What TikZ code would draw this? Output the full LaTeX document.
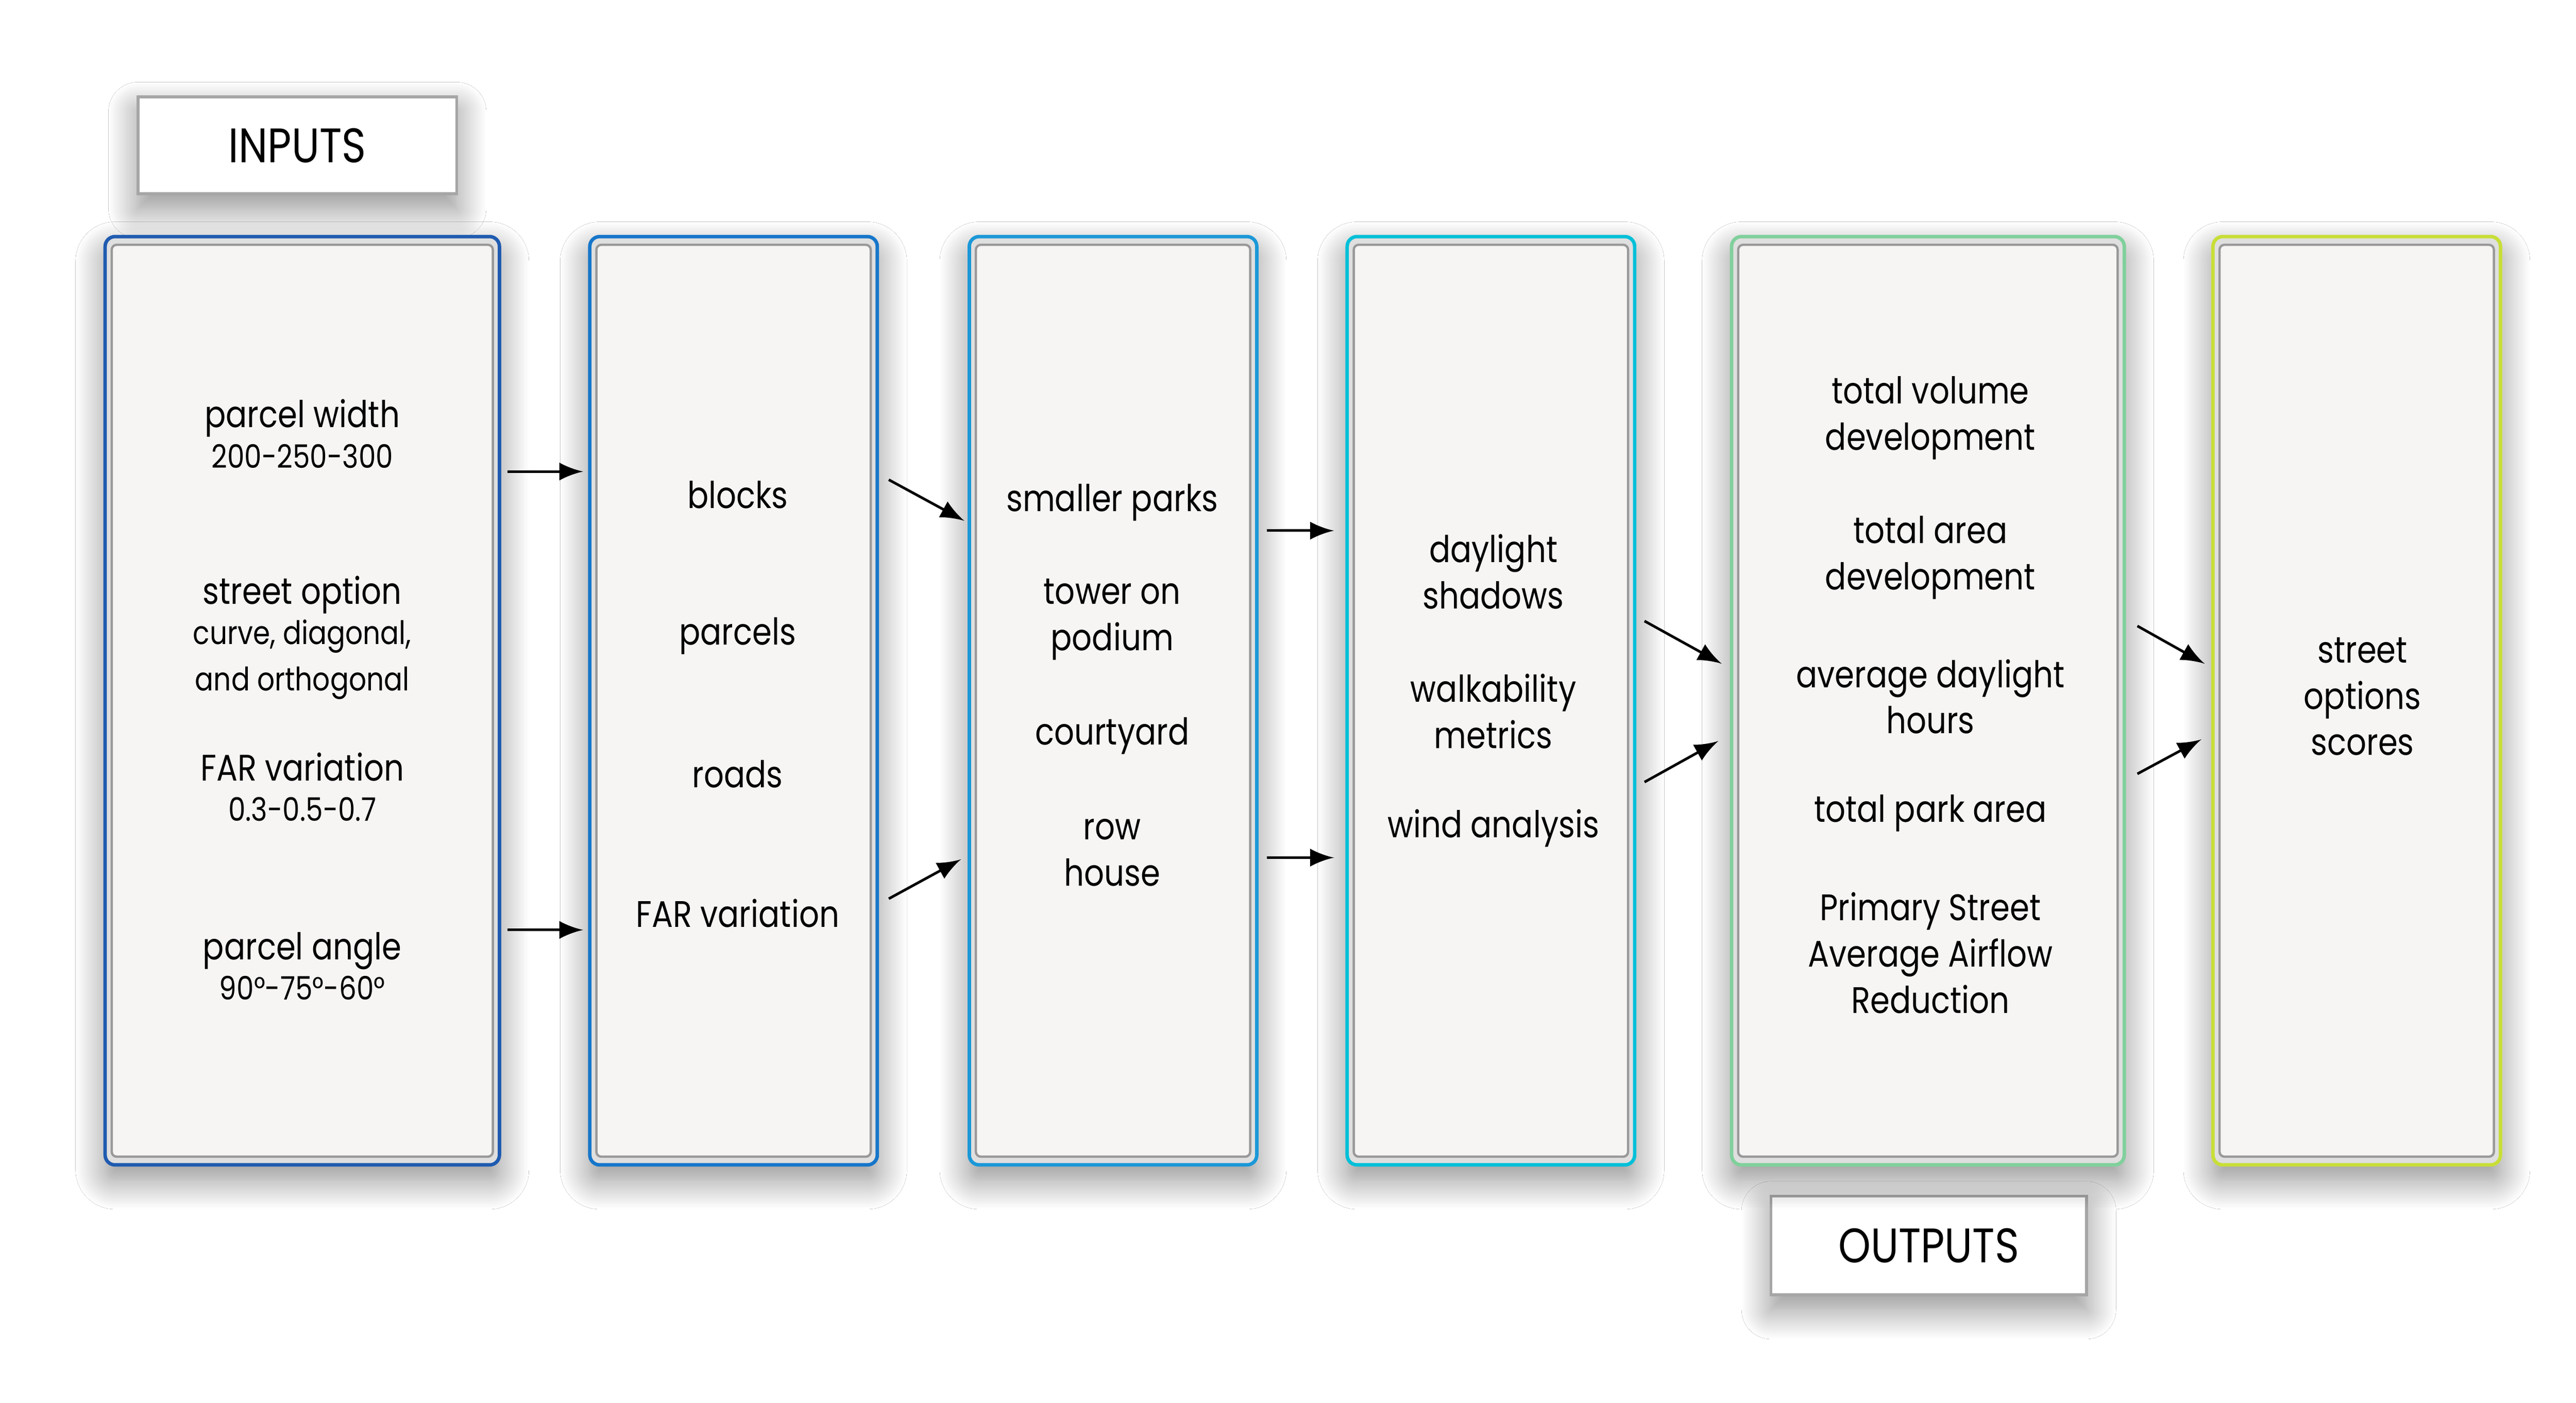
\documentclass[tikz,border=0pt]{standalone}
\usepackage{fontspec}
\setmainfont{Poppins}[FakeStretch=0.85]
\usetikzlibrary{calc,positioning,shadows.blur}
\tikzset{>=latex}
\definecolor{colA}{RGB}{31,91,176}
\definecolor{colB}{RGB}{22,118,202}
\definecolor{colC}{RGB}{27,152,216}
\definecolor{colD}{RGB}{0,192,216}
\definecolor{colE}{RGB}{128,208,156}
\definecolor{colF}{RGB}{200,222,56}
\definecolor{band}{RGB}{223,223,223}
\definecolor{paper}{RGB}{246,245,244}
\newcommand{\subsize}{\fontsize{5.6}{7.4}\selectfont}
\tikzset{
  soft/.style={blur shadow={shadow blur radius=1.8mm, shadow blur steps=24, shadow xshift=0mm, shadow yshift=-0.9mm, shadow opacity=45}},
  outerbox/.style={draw, line width=0.6pt, fill=band, rounded corners=0.6mm, inner sep=0pt, soft},
  panel/.style={draw=gray!80, line width=0.4pt, fill=paper, rounded corners=0.3mm, inner sep=0pt},
  tagbox/.style={draw=gray!70, line width=0.5pt, fill=white, inner sep=0pt, soft, font=\fontsize{8.4}{10}\selectfont},
  txt/.style={align=center, inner sep=0pt, yshift=-0.2mm, font=\fontsize{6.4}{8}\selectfont},
  link/.style={->, line width=0.45pt, black}
}

\begin{document}
\begin{tikzpicture}
      \def\ytop{-1.44}  % top of columns
      \def\hcol{5.65}   % height of columns
      \useasboundingbox (0,0) rectangle (15.68,-8.538);
      \fill[white] (0,0) rectangle (15.68,-8.538);
      % labels
      \node[tagbox, minimum width=1.94cm, minimum height=0.59cm] (inputs) at (1.81,-0.885) {INPUTS};
      \node[tagbox, minimum width=1.92cm, minimum height=0.60cm] (outputs) at (11.74,-7.58) {OUTPUTS};
      %
      \foreach \n/\xa/\xb/\col in {1/0.64/3.04/colA, 2/3.59/5.34/colB, 3/5.90/7.65/colC,
                                   4/8.20/9.95/colD, 5/10.54/12.93/colE, 6/13.47/15.22/colF} {%
        \node[outerbox, draw=\col, minimum width=\xb cm-\xa cm, minimum height=\hcol cm]
          (col\n) at ({(\xa+\xb)/2},{\ytop-\hcol/2}) {};
        \node[panel, minimum width=\xb cm-\xa cm-0.08cm, minimum height=\hcol cm-0.10cm]
          (pan\n) at (col\n) {};
      }
      % column 1
      \node[txt] (t11) at (1.84,-2.62) {parcel width\\[-1pt]\subsize 200-250-300};
      \node[txt] (t12) at (1.84,-3.86) {street option\\[-1pt]\subsize curve, diagonal,\\\subsize and orthogonal};
      \node[txt] (t13) at (1.84,-4.77) {FAR variation\\[-1pt]\subsize 0.3-0.5-0.7};
      \node[txt] (t14) at (1.84,-5.86) {parcel angle\\[-1pt]\subsize 90°-75°-60°};
      % column 2
      \node[txt] (t21) at (4.49,-2.99) {blocks};
      \node[txt] (t22) at (4.49,-3.85) {parcels};
      \node[txt] (t23) at (4.49,-4.69) {roads};
      \node[txt] (t24) at (4.49,-5.54) {FAR variation};
      % column 3
      \node[txt] (t31) at (6.77,-3.04) {smaller parks};
      \node[txt] (t32) at (6.77,-3.75) {tower on\\podium};
      \node[txt] (t33) at (6.77,-4.46) {courtyard};
      \node[txt] (t34) at (6.77,-5.17) {row\\house};
      % column 4
      \node[txt] (t41) at (9.09,-3.46) {daylight\\shadows};
      \node[txt] (t42) at (9.09,-4.31) {walkability\\metrics};
      \node[txt] (t43) at (9.09,-5.02) {wind analysis};
      % column 5
      \node[txt] (t51) at (11.75,-2.525) {total volume\\development};
      \node[txt] (t52) at (11.75,-3.375) {total area\\development};
      \node[txt] (t53) at (11.75,-4.22) {average daylight\\hours};
      \node[txt] (t54) at (11.75,-4.93) {total park area};
      \node[txt] (t55) at (11.75,-5.78) {Primary Street\\Average Airflow\\Reduction};
      % column 6
      \node[txt] (t61) at (14.38,-4.22) {street\\options\\scores};
      % arrows between columns
      \coordinate (a1) at (3.09,-2.87);  \coordinate (b1) at (3.55,-2.87);
      \coordinate (a2) at (3.09,-5.66);  \coordinate (b2) at (3.55,-5.66);
      \coordinate (a3) at (5.41,-2.92);  \coordinate (b3) at (5.87,-3.17);
      \coordinate (a4) at (5.41,-5.47);  \coordinate (b4) at (5.85,-5.23);
      \coordinate (a5) at (7.71,-3.23);  \coordinate (b5) at (8.12,-3.23);
      \coordinate (a6) at (7.71,-5.22);  \coordinate (b6) at (8.12,-5.22);
      \coordinate (a7) at (10.01,-3.78); \coordinate (b7) at (10.48,-4.04);
      \coordinate (a8) at (10.01,-4.76); \coordinate (b8) at (10.46,-4.51);
      \coordinate (a9) at (13.01,-3.81); \coordinate (b9) at (13.42,-4.04);
      \coordinate (a10) at (13.01,-4.71); \coordinate (b10) at (13.40,-4.50);
      \foreach \k in {1,...,10} {%
        \draw[link] (a\k) -- (b\k);
      }
\end{tikzpicture}
\end{document}
